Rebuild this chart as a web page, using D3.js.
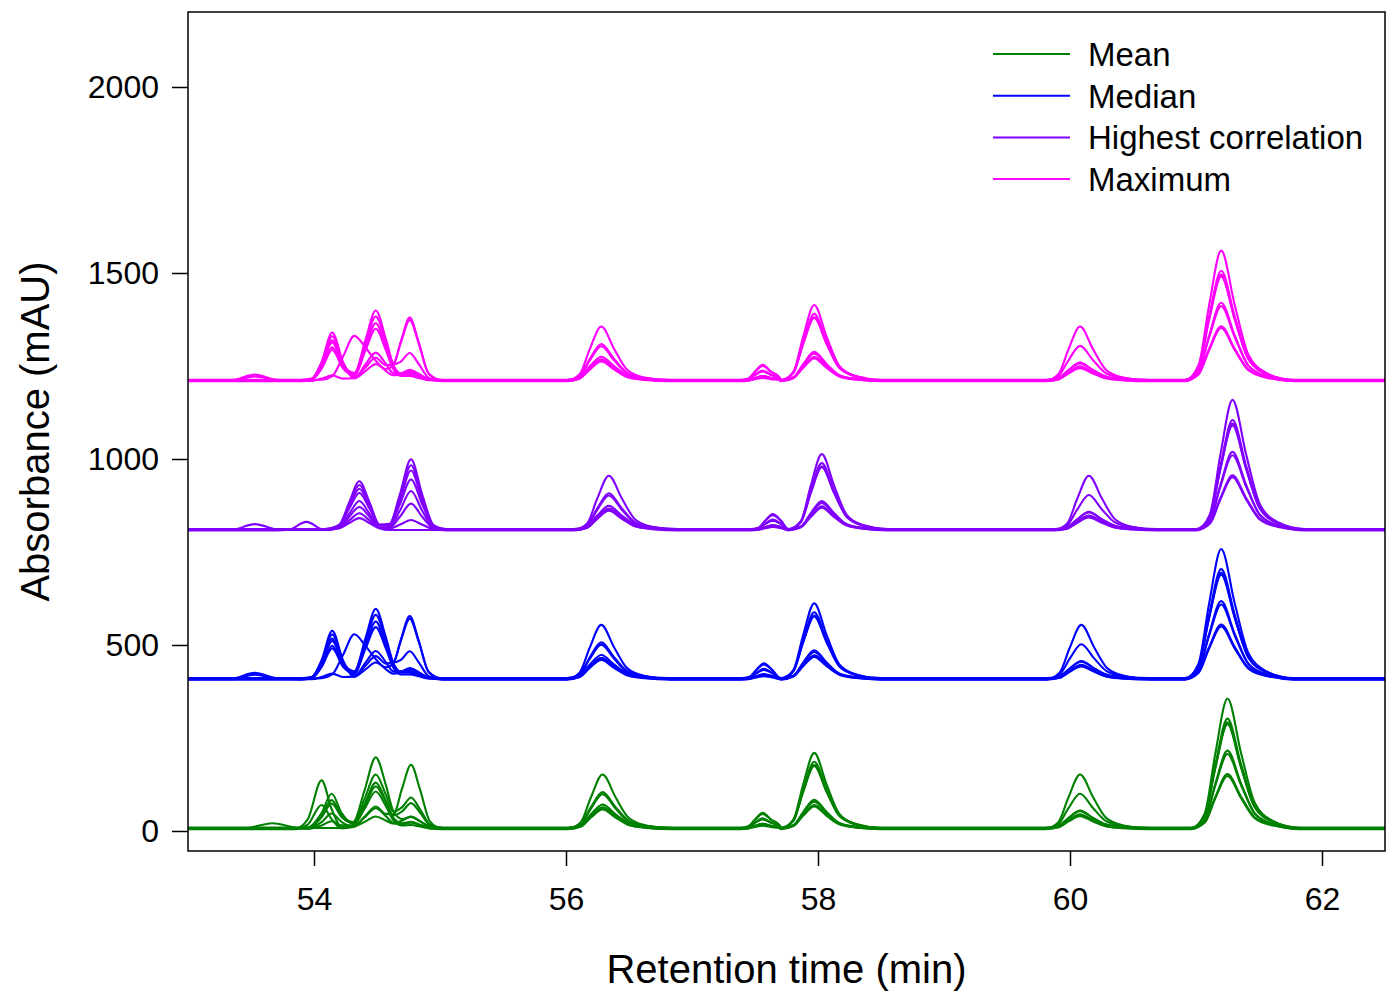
<!DOCTYPE html>
<html lang="en">
  <head>
    <meta charset="utf-8">
    <title>Chromatogram overlays</title>
    <script src="https://d3js.org/d3.v7.min.js"></script>
    <style>
    body {margin: 0; background: white;}
    text {font-family: "Liberation Sans", Arial, sans-serif;}
    </style>
  </head>
  <body>
  <script>

  var w = 1386;
  var h = 992;
  var margin = {top: 12, right: 1, bottom: 141, left: 188};

  // groups (stacked bottom to top)
  var groupNames = ["Mean", "Median", "Highest correlation", "Maximum"];
  var groupColors = ["#008000", "#0000ff", "#8000ff", "#ff00ff"];
  var groupOffsets = [0, 402, 803, 1204];
  // baseline of each of the 8 overlaid runs (mAU)
  var runBaselines = [6, 8, 7, 9, 5, 7, 8, 6];

  var yTicks = [0, 500, 1000, 1500, 2000];
  var xTicks = [54, 56, 58, 60, 62];

  // early cluster (53-55.2 min): knot times per group and absorbance of each run at the knots
  var meanGrid = [53.00, 53.45, 53.67, 53.85, 53.95, 54.06, 54.14, 54.22, 54.31, 54.40, 54.49, 54.57, 54.63, 54.70, 54.77, 54.84, 54.92, 55.02, 55.20];
  var meanCluster = [
    [0, 0, 0, 0, 25, 130, 53, 4, 5, 32, 60, 40, 39, 109, 172, 107, 20, 0, 0],
    [0, 0, 0, 0, 1, 40, 92, 40, 11, 59, 112, 70, 34, 45, 67, 42, 8, 0, 0],
    [0, 0, 0, 0, 0, 33, 76, 34, 17, 101, 191, 117, 46, 25, 31, 19, 4, 0, 0],
    [0, 0, 0, 0, 0, 28, 65, 28, 13, 76, 143, 89, 43, 55, 81, 50, 9, 0, 0],
    [0, 0, 0, 0, 12, 65, 27, 2, 10, 66, 125, 76, 30, 16, 20, 12, 2, 0, 0],
    [0, 0, 0, 0, 0, 17, 40, 17, 5, 29, 54, 33, 14, 11, 15, 9, 2, 0, 0],
    [0, 0, 0, 0, 0, 0, 0, 0, 3, 16, 31, 20, 12, 20, 31, 19, 4, 0, 0],
    [0, 1, 15, 3, 0, 9, 20, 9, 9, 53, 100, 61, 23, 9, 10, 6, 1, 0, 0]
  ];

  var medianGrid = [53.00, 53.35, 53.53, 53.70, 53.90, 53.98, 54.06, 54.145, 54.23, 54.32, 54.41, 54.49, 54.57, 54.63, 54.69, 54.76, 54.83, 54.91, 55.02, 55.20];
  var medianCluster = [
    [0, 2, 17, 3, 0, 4, 51, 130, 51, 7, 27, 45, 32, 42, 107, 170, 105, 19, 0, 0],
    [0, 0, 0, 0, 0, 3, 46, 118, 46, 8, 35, 60, 40, 44, 102, 161, 100, 18, 0, 0],
    [0, 0, 0, 0, 0, 3, 42, 108, 43, 20, 111, 188, 112, 42, 19, 21, 12, 2, 0, 0],
    [0, 0, 0, 0, 0, 3, 39, 100, 40, 18, 100, 170, 101, 37, 16, 15, 9, 2, 0, 0],
    [0, 0, 0, 0, 0, 3, 35, 91, 36, 16, 92, 156, 94, 46, 53, 76, 47, 9, 0, 0],
    [0, 0, 0, 0, 0, 2, 32, 82, 33, 15, 82, 139, 82, 30, 12, 12, 7, 1, 0, 0],
    [0, 0, 0, 0, 0, 0, 1, 11, 63, 119, 87, 52, 25, 13, 17, 25, 16, 3, 0, 0],
    [0, 0, 12, 2, 0, 0, 6, 15, 6, 7, 45, 76, 46, 21, 21, 30, 19, 3, 0, 0]
  ];

  var corrGrid = [53.00, 53.35, 53.53, 53.70, 53.80, 53.94, 54.08, 54.20, 54.28, 54.36, 54.44, 54.52, 54.60, 54.68, 54.77, 54.86, 54.95, 55.05, 55.20];
  var corrCluster = [
    [0, 1, 16, 2, 0, 0, 0, 13, 75, 131, 75, 14, 13, 78, 160, 78, 9, 0, 0],
    [0, 0, 0, 0, 0, 0, 0, 12, 68, 119, 68, 13, 15, 92, 188, 92, 11, 0, 0],
    [0, 0, 0, 0, 0, 0, 0, 11, 63, 110, 63, 12, 14, 85, 173, 85, 10, 0, 0],
    [0, 0, 0, 0, 0, 0, 0, 10, 55, 97, 55, 10, 11, 65, 133, 65, 8, 0, 0],
    [0, 0, 0, 0, 2, 23, 2, 8, 45, 79, 45, 8, 9, 52, 106, 52, 6, 0, 0],
    [0, 0, 0, 0, 0, 0, 0, 6, 35, 61, 35, 6, 6, 34, 70, 34, 4, 0, 0],
    [0, 0, 0, 0, 0, 0, 0, 3, 17, 30, 17, 3, 2, 12, 25, 12, 1, 0, 0],
    [0, 0, 0, 0, 0, 0, 0, 5, 26, 45, 26, 5, 0, 0, 0, 0, 0, 0, 0]
  ];

  var maxGrid = medianGrid;
  var maxCluster = medianCluster;

  var clusterGrids = [meanGrid, medianGrid, corrGrid, maxGrid];
  var clusterValues = [meanCluster, medianCluster, corrCluster, maxCluster];

  // later peaks: apex retention time per group, apex height per run
  var lateTimes = [
    [56.29, 57.56, 57.97, 60.08, 61.25],
    [56.28, 57.57, 57.97, 60.09, 61.20],
    [56.34, 57.64, 58.03, 60.15, 61.29],
    [56.28, 57.56, 57.97, 60.08, 61.20]
  ];
  var lateHeights = [
    [146, 43, 204, 146, 350],
    [97, 38, 178, 92, 294],
    [92, 27, 170, 48, 285],
    [62, 22, 166, 44, 278],
    [58, 14, 79, 40, 211],
    [56, 12, 72, 36, 200],
    [54, 10, 62, 35, 145],
    [52, 8, 60, 34, 142]
  ];
  var lateWidths = [1.15, 0.75, 1.1, 1.15, 1.2];
  // peak profile read from the 61.2 min peak (min from apex, fraction of apex)
  var profileOffsets = [-0.24, -0.15, -0.08, 0, 0.09, 0.18, 0.30, 0.48];
  var profileShape = [0, 0.12, 0.58, 1, 0.58, 0.2, 0.06, 0];

  var svg = d3.select("body")
      .append("svg")
      .attr("width", w)
      .attr("height", h);

  var x = d3.scaleLinear()
      .domain([53, 62.5])
      .range([margin.left, w - margin.right]);

  var y = d3.scaleLinear()
      .domain([-53.8, 2201.6])
      .range([h - margin.bottom, margin.top]);

  svg.append("clipPath")
      .attr("id", "plotclip")
    .append("rect")
      .attr("x", margin.left)
      .attr("y", margin.top)
      .attr("width", w - margin.right - margin.left)
      .attr("height", h - margin.bottom - margin.top);

  function runKnots(g, k) {
    var pts = [];
    var grid = clusterGrids[g];
    grid.forEach(function(t, i) {
      pts.push([t, clusterValues[g][k][i]]);
    });
    lateTimes[g].forEach(function(T, p) {
      var s = lateWidths[p];
      var first = T + profileOffsets[0] * s;
      while (pts.length && pts[pts.length - 1][0] >= first - 0.005) pts.pop();
      profileOffsets.forEach(function(o, j) {
        pts.push([T + o * s, lateHeights[k][p] * profileShape[j]]);
      });
    });
    pts.push([62.6, 0]);
    var base = groupOffsets[g] + runBaselines[k];
    return pts.map(function(d) { return [d[0], d[1] + base]; });
  }

  var line = d3.line()
      .x(d => x(d[0]))
      .y(d => y(d[1]))
      .curve(d3.curveMonotoneX);

  var plot = svg.append("g").attr("clip-path", "url(#plotclip)");

  groupNames.forEach(function(name, g) {
    var runs = d3.range(runBaselines.length).map(k => runKnots(g, k));
    plot.append("g")
        .selectAll("path")
        .data(runs)
        .join("path")
        .attr("d", line)
        .attr("fill", "none")
        .attr("stroke", groupColors[g])
        .attr("stroke-width", 2.1)
        .attr("stroke-linejoin", "round");
  });

  // axes
  var yAxis = svg.append("g")
      .attr("transform", `translate(${margin.left},0)`)
      .call(d3.axisLeft(y).tickValues(yTicks).tickFormat(d3.format("d")).tickSize(16).tickPadding(13));
  yAxis.select(".domain").remove();

  var xAxis = svg.append("g")
      .attr("transform", `translate(0,${h - margin.bottom})`)
      .call(d3.axisBottom(x).tickValues(xTicks).tickFormat(d3.format("d")).tickSize(15).tickPadding(21));
  xAxis.select(".domain").remove();

  svg.selectAll(".tick line").attr("stroke", "#000").attr("stroke-width", 1.5);
  svg.selectAll(".tick text")
      .style("font-size", "32px")
      .attr("font-family", "Liberation Sans, Arial, sans-serif")
      .attr("fill", "#000");

  // frame
  svg.append("rect")
      .attr("x", margin.left)
      .attr("y", margin.top)
      .attr("width", w - margin.right - margin.left)
      .attr("height", h - margin.bottom - margin.top)
      .attr("fill", "none")
      .attr("stroke", "#000")
      .attr("stroke-width", 1.5);

  svg.append("text")
      .attr("text-anchor", "middle")
      .attr("x", (margin.left + w - margin.right) / 2)
      .attr("y", 983)
      .style("font-size", "40px")
      .text("Retention time (min)");

  svg.append("text")
      .attr("text-anchor", "middle")
      .attr("transform", `translate(49,${(margin.top + h - margin.bottom) / 2}) rotate(-90)`)
      .style("font-size", "40px")
      .text("Absorbance (mAU)");

  // legend
  var legend = svg.append("g");
  groupNames.forEach(function(name, i) {
    var ly = 54 + i * 41.7;
    legend.append("line")
        .attr("x1", 993).attr("x2", 1070)
        .attr("y1", ly).attr("y2", ly)
        .attr("stroke", groupColors[i])
        .attr("stroke-width", 2);
    legend.append("text")
        .attr("x", 1088)
        .attr("y", ly + 12)
        .style("font-size", "33px")
        .text(name);
  });

  </script>
  </body>
</html>
